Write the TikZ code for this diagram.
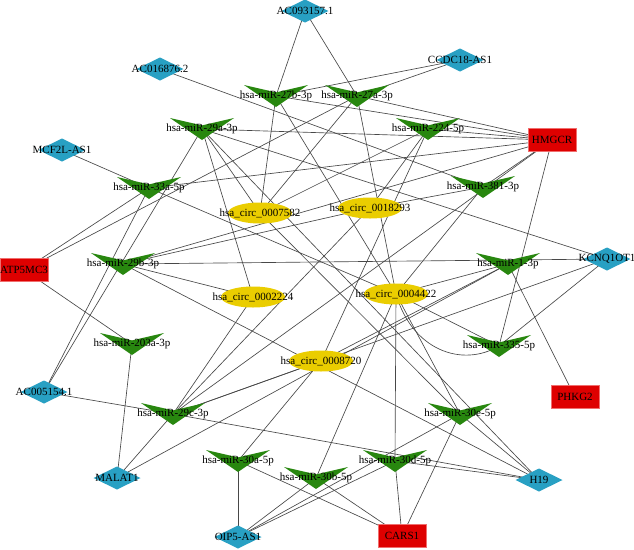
\documentclass[tikz,border=0pt]{standalone}
\usepackage{fontspec}
\setmainfont{Liberation Serif}
\definecolor{lnc}{RGB}{40,160,195}
\definecolor{mir}{RGB}{40,135,15}
\definecolor{circ}{RGB}{234,205,0}
\definecolor{mrna}{RGB}{222,0,0}
\definecolor{mrnaedge}{RGB}{240,110,110}
\definecolor{edgecol}{RGB}{72,72,72}
\pgfdeclarelayer{edges}
\pgfsetlayers{edges,main}
\tikzset{
  lbl/.style={font=\fontsize{11}{12}\selectfont, inner sep=0pt, text=black},
  veenode/.style={lbl, minimum width=64pt, minimum height=22pt,
    path picture={\fill[mir] ([shift={(-32pt,11pt)}]path picture bounding box.center)
      -- ([shift={(0pt,3.6pt)}]path picture bounding box.center)
      -- ([shift={(32pt,11pt)}]path picture bounding box.center)
      -- ([shift={(0pt,-11pt)}]path picture bounding box.center) -- cycle;}},
  lncnode/.style={lbl, minimum width=47pt, minimum height=23pt,
    path picture={\fill[lnc] ([shift={(-23.5pt,0pt)}]path picture bounding box.center)
      -- ([shift={(0pt,11.5pt)}]path picture bounding box.center)
      -- ([shift={(23.5pt,0pt)}]path picture bounding box.center)
      -- ([shift={(0pt,-11.5pt)}]path picture bounding box.center) -- cycle;}},
  circnode/.style={lbl, minimum width=64pt, minimum height=21pt,
    path picture={\fill[circ] (path picture bounding box.center) ellipse [x radius=32pt, y radius=10.5pt];}},
  mrnanode/.style={lbl, minimum width=48pt, minimum height=23pt, fill=mrna, draw=mrnaedge, line width=0.6pt},
  edge/.style={draw=edgecol, line width=0.65pt}
}
\begin{document}
\begin{tikzpicture}[x=1pt,y=-1pt]
\useasboundingbox (0,0) rectangle (634,549);
% lncRNAs
\node[lncnode] (AC093) at (305,11) {AC093157.1};
\node[lncnode] (AC016) at (160,69) {AC016876.2};
\node[lncnode] (CCDC) at (460,60) {CCDC18-AS1};
\node[lncnode] (MCF) at (62,150) {MCF2L-AS1};
\node[lncnode] (KCN) at (607,259) {KCNQ1OT1};
\node[lncnode] (AC005) at (44,392) {AC005154.1};
\node[lncnode] (MAL) at (117,478) {MALAT1};
\node[lncnode] (H19) at (539,480) {H19};
\node[lncnode] (OIP) at (238,537) {OIP5-AS1};
% mRNAs
\node[mrnanode] (HMG) at (552,140) {HMGCR};
\node[mrnanode] (ATP) at (24,270) {ATP5MC3};
\node[mrnanode] (PHK) at (575,397) {PHKG2};
\node[mrnanode] (CARS) at (402,536) {CARS1};
% circRNAs
\node[circnode] (c7582) at (260,213) {hsa\_circ\_0007582};
\node[circnode] (c18293) at (370,208) {hsa\_circ\_0018293};
\node[circnode] (c2224) at (253,297) {hsa\_circ\_0002224};
\node[circnode] (c4422) at (396,294) {hsa\_circ\_0004422};
\node[circnode] (c8720) at (321,361) {hsa\_circ\_0008720};
% miRNAs
\node[veenode] (m27b) at (276,96) {hsa-miR-27b-3p};
\node[veenode] (m27a) at (357,96) {hsa-miR-27a-3p};
\node[veenode] (m29a) at (202,129) {hsa-miR-29a-3p};
\node[veenode] (m224) at (428,129) {hsa-miR-224-5p};
\node[veenode] (m33a) at (149,188) {hsa-miR-33a-5p};
\node[veenode] (m381) at (483,187) {hsa-miR-381-3p};
\node[veenode] (m29b) at (123,264) {hsa-miR-29b-3p};
\node[veenode] (m1) at (508,264) {hsa-miR-1-3p};
\node[veenode] (m203a) at (132,344) {hsa-miR-203a-3p};
\node[veenode] (m335) at (499,346) {hsa-miR-335-5p};
\node[veenode] (m29c) at (173,414) {hsa-miR-29c-3p};
\node[veenode] (m30e) at (460,414) {hsa-miR-30e-5p};
\node[veenode] (m30a) at (238,461) {hsa-miR-30a-5p};
\node[veenode] (m30b) at (316,478) {hsa-miR-30b-5p};
\node[veenode] (m30d) at (395,461) {hsa-miR-30d-5p};
\begin{pgfonlayer}{edges}
\fill[white] (0,0) rectangle (634,549);
\foreach \a/\b in {AC093/m27b, AC093/m27a, AC016/m381, CCDC/m27b, CCDC/m27a, MCF/m33a,
  HMG/m27b, HMG/m27a, HMG/m29a, HMG/m224, HMG/m33a, HMG/m29b, HMG/m381, HMG/m335, HMG/m29c,
  ATP/m33a, ATP/m27a, ATP/m203a,
  KCN/m29a, KCN/m29b, KCN/m29c, KCN/m335,
  AC005/m29a, AC005/m33a, AC005/m29c,
  MAL/m203a, MAL/m29c, MAL/m1, PHK/m1,
  H19/m29c, H19/m30d, H19/m29b, H19/m29a, H19/m30e,
  CARS/m30a, CARS/m30b, CARS/m30d, CARS/m30e,
  OIP/m30a, OIP/m30b, OIP/m30d, OIP/m30e,
  c7582/m27b, c7582/m27a, c7582/m29a, c7582/m224, c7582/m30e,
  c18293/m224, c18293/m29b, c18293/m29c, c18293/m381,
  c2224/m29a, c2224/m29b, c2224/m29c,
  c4422/m27b, c4422/m27a, c4422/m381, c4422/m1, c4422/m335, c4422/m30d, c4422/m30b, c4422/m30e, c4422/m33a,
  c8720/m30a, c8720/m29c, c8720/m1, c8720/m224}
  \draw[edge] (\a.center) -- (\b.center);
\draw[edge] (c4422.center) .. controls (412,350) and (462,368) .. (m335.center);
\end{pgfonlayer}
\end{tikzpicture}
\end{document}
